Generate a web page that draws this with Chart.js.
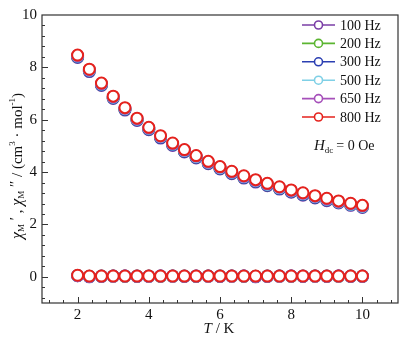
<!DOCTYPE html>
<html>
<head>
<meta charset="utf-8">
<script src="https://cdn.jsdelivr.net/npm/chart.js@4.4.1/dist/chart.umd.min.js"></script>
<style>
  body { margin: 0; background: #fff; }
  canvas { display: block; }
</style>
</head>
<body>
<canvas id="grafico" width="414" height="341"></canvas>
<script>
// temperaturas (K)
var temps = [2, 2.33, 2.67, 3, 3.33, 3.67, 4, 4.33, 4.67, 5, 5.33, 5.67, 6,
             6.33, 6.67, 7, 7.33, 7.67, 8, 8.33, 8.67, 9, 9.33, 9.67, 10];

var frequencias = ['100 Hz', '200 Hz', '300 Hz', '500 Hz', '650 Hz', '800 Hz'];
var cores = ['#7a3ea6', '#5bb531', '#2b3fb2', '#7fd0e6', '#a650ba', '#e5221c'];

// chi' (em fase)
var chiReal100 = [8.38, 7.84, 7.31, 6.81, 6.37, 5.97, 5.62, 5.30, 5.02, 4.77, 4.54, 4.32, 4.12, 3.94, 3.77, 3.62, 3.48, 3.35, 3.23, 3.12, 3.01, 2.91, 2.82, 2.73, 2.65];
var chiReal200 = [8.41, 7.87, 7.34, 6.84, 6.40, 6.00, 5.65, 5.33, 5.05, 4.80, 4.57, 4.35, 4.15, 3.97, 3.80, 3.65, 3.51, 3.38, 3.26, 3.15, 3.04, 2.94, 2.85, 2.76, 2.68];
var chiReal300 = [8.40, 7.86, 7.33, 6.83, 6.39, 5.99, 5.64, 5.32, 5.04, 4.79, 4.56, 4.34, 4.14, 3.96, 3.79, 3.64, 3.50, 3.37, 3.25, 3.14, 3.03, 2.93, 2.84, 2.75, 2.67];
var chiReal500 = [8.43, 7.89, 7.36, 6.86, 6.42, 6.02, 5.67, 5.35, 5.07, 4.82, 4.59, 4.37, 4.17, 3.99, 3.82, 3.67, 3.53, 3.40, 3.28, 3.17, 3.06, 2.96, 2.86, 2.77, 2.69];
var chiReal650 = [8.45, 7.91, 7.38, 6.88, 6.44, 6.04, 5.69, 5.37, 5.09, 4.84, 4.61, 4.39, 4.19, 4.01, 3.84, 3.69, 3.55, 3.42, 3.30, 3.19, 3.08, 2.98, 2.88, 2.79, 2.71];
var chiReal800 = [8.47, 7.93, 7.40, 6.90, 6.46, 6.06, 5.71, 5.39, 5.11, 4.86, 4.63, 4.41, 4.21, 4.03, 3.86, 3.71, 3.57, 3.44, 3.32, 3.21, 3.10, 3.00, 2.90, 2.81, 2.73];

// chi'' (fora de fase)
var chiImag100 = [0.04, 0.01, 0.02, 0.02, 0.03, 0.02, 0.02, 0.03, 0.02, 0.02, 0.03, 0.02, 0.02, 0.02, 0.03, 0.01, 0.02, 0.02, 0.03, 0.02, 0.02, 0.02, 0.03, 0.02, 0.02];
var chiImag200 = [0.05, 0.02, 0.03, 0.03, 0.02, 0.03, 0.03, 0.02, 0.03, 0.03, 0.02, 0.03, 0.03, 0.03, 0.02, 0.02, 0.03, 0.03, 0.02, 0.03, 0.03, 0.03, 0.02, 0.03, 0.03];
var chiImag300 = [0.04, 0.00, 0.02, 0.03, 0.03, 0.02, 0.02, 0.03, 0.03, 0.02, 0.02, 0.03, 0.02, 0.03, 0.03, 0.00, 0.02, 0.03, 0.03, 0.02, 0.03, 0.02, 0.03, 0.02, 0.02];
var chiImag500 = [0.05, 0.02, 0.03, 0.02, 0.03, 0.03, 0.02, 0.03, 0.02, 0.03, 0.03, 0.02, 0.03, 0.02, 0.03, 0.02, 0.03, 0.02, 0.03, 0.03, 0.02, 0.03, 0.02, 0.03, 0.03];
var chiImag650 = [0.05, 0.02, 0.03, 0.03, 0.03, 0.03, 0.03, 0.03, 0.03, 0.03, 0.03, 0.03, 0.03, 0.03, 0.03, 0.02, 0.03, 0.03, 0.03, 0.03, 0.03, 0.03, 0.03, 0.03, 0.03];
var chiImag800 = [0.06, 0.03, 0.03, 0.03, 0.03, 0.03, 0.03, 0.03, 0.03, 0.03, 0.03, 0.03, 0.03, 0.03, 0.03, 0.03, 0.03, 0.03, 0.03, 0.03, 0.03, 0.03, 0.03, 0.03, 0.03];

var xTicks = [2, 4, 6, 8, 10];
var yTicks = [0, 2, 4, 6, 8, 10];

var seriesReal = [chiReal100, chiReal200, chiReal300, chiReal500, chiReal650, chiReal800];
var seriesImag = [chiImag100, chiImag200, chiImag300, chiImag500, chiImag650, chiImag800];

var serif = '"Liberation Serif", "DejaVu Serif", serif';

function pontos(valores) {
    return temps.map(function (t, i) { return { x: t, y: valores[i] }; });
}

var datasets = [];
frequencias.forEach(function (f, k) {
    [seriesReal[k], seriesImag[k]].forEach(function (vals) {
        datasets.push({
            label: f,
            data: pontos(vals),
            showLine: false,
            borderColor: cores[k],
            backgroundColor: '#ffffff',
            pointRadius: 5.5,
            pointBorderWidth: 2,
            order: frequencias.length - k
        });
    });
});

// eixos, ticks internos, legenda e textos
var extras = {
    id: 'extras',
    afterDraw: function (chart) {
        var c = chart.ctx, a = chart.chartArea;
        var sx = chart.scales.x, sy = chart.scales.y;
        c.save();
        c.strokeStyle = '#333';
        c.lineWidth = 1.2;
        c.strokeRect(a.left, a.top, a.right - a.left, a.bottom - a.top);

        c.lineWidth = 1;
        c.beginPath();
        for (var v = 1.2; v < 10.9; v += 0.4) {
            var px = Math.round(sx.getPixelForValue(v)) + 0.5;
            var maior = Math.abs(v / 2 - Math.round(v / 2)) < 0.01;
            c.moveTo(px, a.bottom);
            c.lineTo(px, a.bottom - (maior ? 6 : 3));
        }
        for (var w = -0.8; w < 9.9; w += 0.4) {
            var py = Math.round(sy.getPixelForValue(w)) + 0.5;
            var maiorY = Math.abs(w / 2 - Math.round(w / 2)) < 0.01;
            c.moveTo(a.left, py);
            c.lineTo(a.left + (maiorY ? 6 : 3), py);
        }
        c.stroke();

        // legenda
        c.textBaseline = 'middle';
        frequencias.forEach(function (f, k) {
            var y = 25 + k * 18.4;
            c.strokeStyle = cores[k];
            c.lineWidth = 1.6;
            c.beginPath();
            c.moveTo(302, y);
            c.lineTo(335, y);
            c.stroke();
            c.beginPath();
            c.arc(318.5, y, 4, 0, Math.PI * 2);
            c.fillStyle = '#fff';
            c.fill();
            c.stroke();
            c.fillStyle = '#111';
            c.font = '14px ' + serif;
            c.textAlign = 'left';
            c.fillText(f, 340, y + 1);
        });

        // H_dc = 0 Oe
        c.fillStyle = '#111';
        c.font = 'italic 15px ' + serif;
        c.fillText('H', 314, 146);
        var xh = 314 + c.measureText('H').width;
        c.font = '9px ' + serif;
        c.fillText('dc', xh, 151);
        xh += c.measureText('dc').width + 3;
        c.font = '14px ' + serif;
        c.fillText('= 0 Oe', xh, 146);

        // T / K
        c.textAlign = 'left';
        c.font = 'italic 15px ' + serif;
        var wT = c.measureText('T').width;
        c.font = '15px ' + serif;
        var wK = c.measureText(' / K').width;
        var x0 = 219 - (wT + wK) / 2;
        c.font = 'italic 15px ' + serif;
        c.fillText('T', x0, 329);
        c.font = '15px ' + serif;
        c.fillText(' / K', x0 + wT, 329);

        // titulo do eixo y
        var partes = [
            { t: 'χ', f: 'italic 16px', dy: 0 },
            { t: 'M', f: '9px', dy: 4 },
            { t: ' ′', f: '15px', dy: -2 },
            { t: ' , ', f: '15px', dy: 0 },
            { t: 'χ', f: 'italic 16px', dy: 0 },
            { t: 'M', f: '9px', dy: 4 },
            { t: ' ″', f: '15px', dy: -2 },
            { t: ' / (cm', f: '15px', dy: 0 },
            { t: '3', f: '9px', dy: -5 },
            { t: ' · mol', f: '15px', dy: 0 },
            { t: '-1', f: '9px', dy: -5 },
            { t: ')', f: '15px', dy: 0 }
        ];
        var total = 0;
        partes.forEach(function (p) { c.font = p.f + ' ' + serif; p.w = c.measureText(p.t).width; total += p.w; });
        c.translate(18, 166);
        c.rotate(-Math.PI / 2);
        var xp = -total / 2;
        partes.forEach(function (p) {
            c.font = p.f + ' ' + serif;
            c.fillText(p.t, xp, p.dy);
            xp += p.w;
        });
        c.restore();
    }
};

var ctx = document.getElementById('grafico').getContext('2d');
var grafico = new Chart(ctx, {
    type: 'scatter',
    data: { datasets: datasets },
    options: {
        responsive: false,
        animation: false,
        devicePixelRatio: 1,
        layout: { padding: { top: 15, right: 16, left: 0, bottom: 0 } },
        plugins: { legend: { display: false }, tooltip: { enabled: false } },
        scales: {
            x: {
                type: 'linear',
                min: 1,
                max: 11,
                grid: { display: false, drawTicks: false },
                border: { display: false },
                afterBuildTicks: function (s) { s.ticks = xTicks.map(function (v) { return { value: v }; }); },
                afterFit: function (s) { s.height = 38; },
                ticks: { color: '#111', padding: 3, maxRotation: 0, font: { family: serif, size: 15 } }
            },
            y: {
                type: 'linear',
                min: -1,
                max: 10,
                grid: { display: false, drawTicks: false },
                border: { display: false },
                afterBuildTicks: function (s) { s.ticks = yTicks.map(function (v) { return { value: v }; }); },
                afterFit: function (s) { s.width = 42; },
                ticks: { color: '#111', padding: 5, font: { family: serif, size: 15 } }
            }
        }
    },
    plugins: [extras]
});
</script>
</body>
</html>
